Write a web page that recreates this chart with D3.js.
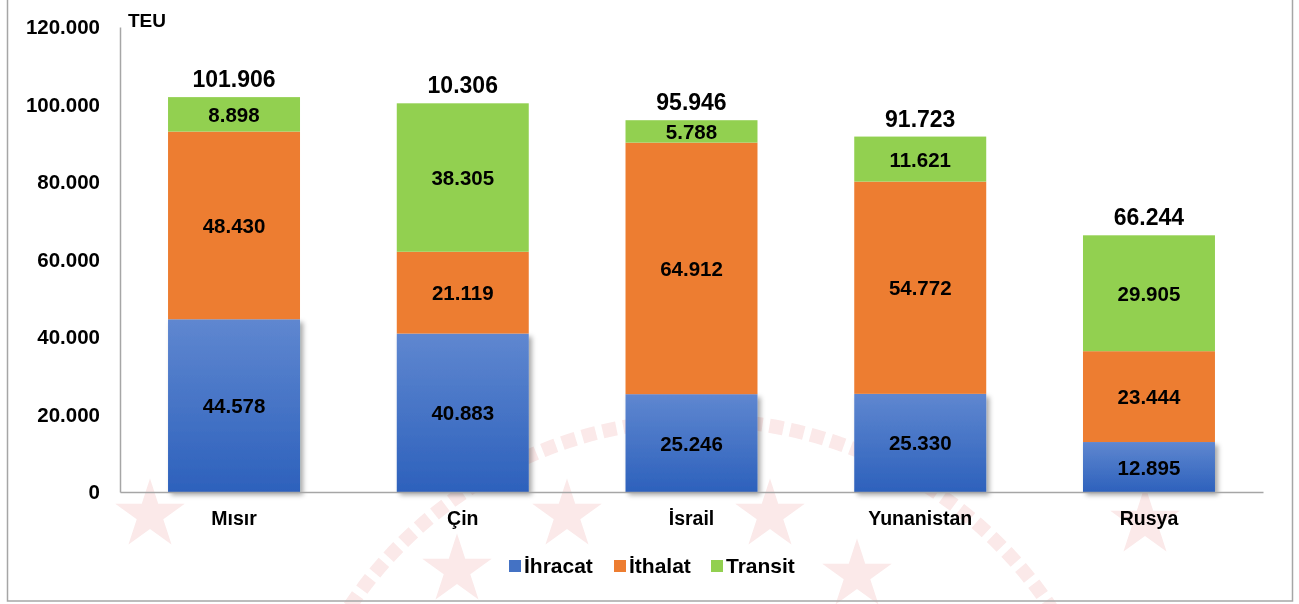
<!DOCTYPE html>
<html>
<head>
<meta charset="utf-8">
<script src="https://cdn.jsdelivr.net/npm/d3@7"></script>
<style>
  html, body { margin: 0; padding: 0; background: #fff; }
  text { font-family: "Liberation Sans", Arial, sans-serif; font-weight: bold; fill: #000; }
</style>
</head>
<body>
<div id="chart"></div>
<script>
// Data (TEU)
const categories = ['Mısır', 'Çin', 'İsrail', 'Yunanistan', 'Rusya'];
const ihracat = [44578, 40883, 25246, 25330, 12895];
const ithalat = [48430, 21119, 64912, 54772, 23444];
const transit = [8898, 38305, 5788, 11621, 29905];
const totalLabels = ['101.906', '10.306', '95.946', '91.723', '66.244'];
const seriesNames = ['İhracat', 'İthalat', 'Transit'];
const yTicks = [0, 20000, 40000, 60000, 80000, 100000, 120000];

const W = 1299, H = 604;
const margin = { left: 120, right: 36, top: 27, bottom: 112 };

const trFormat = d3.formatLocale({ decimal: ',', thousands: '.', grouping: [3], currency: ['', ''] }).format(',d');

const svg = d3.select('#chart').append('svg')
  .attr('width', W).attr('height', H);

const defs = svg.append('defs');
const grad = defs.append('linearGradient').attr('id', 'blueGrad')
  .attr('x1', 0).attr('y1', 0).attr('x2', 0).attr('y2', 1);
grad.append('stop').attr('offset', '0%').attr('stop-color', '#5f87d0');
grad.append('stop').attr('offset', '100%').attr('stop-color', '#2d61bc');
const shadow = defs.append('filter').attr('id', 'shadow')
  .attr('x', '-10%').attr('y', '-10%').attr('width', '130%').attr('height', '130%');
shadow.append('feDropShadow').attr('dx', 3).attr('dy', 3).attr('stdDeviation', 2.5)
  .attr('flood-color', '#000').attr('flood-opacity', 0.35);

// faint seal watermark in the background
const wm = svg.append('g').attr('opacity', 0.1);
wm.append('circle').attr('cx', 700).attr('cy', 842).attr('r', 422)
  .attr('fill', 'none').attr('stroke', '#d02020').attr('stroke-width', 14)
  .attr('stroke-dasharray', '14 7');
const starPts = [[150, 515], [567, 515], [770, 515], [457, 570], [857, 575], [1145, 522]];
wm.selectAll('path.star').data(starPts).join('path')
  .attr('class', 'star')
  .attr('transform', d => `translate(${d[0]},${d[1]})`)
  .attr('d', d3.symbol(d3.symbolStar, 1500))
  .attr('fill', '#d02020');

// outer frame
svg.append('rect').attr('x', 7.5).attr('y', -2).attr('width', 1285).attr('height', 603)
  .attr('fill', 'none').attr('stroke', '#a6a6a6').attr('stroke-width', 1.5);

const x = d3.scaleBand().domain(categories)
  .range([margin.left, W - margin.right])
  .paddingInner(0.423).paddingOuter(0.21);
const y = d3.scaleLinear().domain([0, 120000]).range([492, margin.top]);

// stack
const rows = categories.map((c, i) => ({ cat: c, 'İhracat': ihracat[i], 'İthalat': ithalat[i], 'Transit': transit[i] }));
const stacked = d3.stack().keys(seriesNames)(rows);
const colors = { 'İhracat': 'url(#blueGrad)', 'İthalat': '#ed7d31', 'Transit': '#92d050' };
const legendColors = { 'İhracat': '#4472c4', 'İthalat': '#ed7d31', 'Transit': '#92d050' };

const barsG = svg.append('g');
stacked.forEach(layer => {
  barsG.append('g').selectAll('rect').data(layer).join('rect')
    .attr('x', d => x(d.data.cat))
    .attr('y', d => y(d[1]))
    .attr('width', x.bandwidth())
    .attr('height', d => y(d[0]) - y(d[1]))
    .attr('fill', colors[layer.key])
    .attr('filter', layer.key === 'İhracat' ? 'url(#shadow)' : null);
});

// segment labels
stacked.forEach(layer => {
  barsG.append('g').selectAll('text').data(layer).join('text')
    .attr('x', d => x(d.data.cat) + x.bandwidth() / 2)
    .attr('y', d => (y(d[0]) + y(d[1])) / 2)
    .attr('text-anchor', 'middle').attr('dominant-baseline', 'central')
    .attr('font-size', 20.5)
    .text(d => trFormat(d[1] - d[0]));
});

// totals
const tops = stacked[stacked.length - 1];
svg.append('g').selectAll('text').data(tops).join('text')
  .attr('x', d => x(d.data.cat) + x.bandwidth() / 2)
  .attr('y', d => y(d[1]) - 10)
  .attr('text-anchor', 'middle')
  .attr('font-size', 23)
  .text((d, i) => totalLabels[i]);

// axes
const yAxis = svg.append('g').attr('transform', `translate(${margin.left},0)`)
  .call(d3.axisLeft(y).tickValues(yTicks).tickSize(0).tickPadding(20).tickFormat(trFormat));
yAxis.select('.domain').attr('stroke', '#a6a6a6').attr('stroke-width', 1.5);
yAxis.selectAll('text').attr('font-size', 20.5).attr('font-family', null).attr('fill', null);

const xAxis = svg.append('g').attr('transform', 'translate(0,492)')
  .call(d3.axisBottom(x).tickSize(0).tickPadding(19));
xAxis.select('.domain').attr('stroke', '#a6a6a6').attr('stroke-width', 1.5);
xAxis.selectAll('text').attr('font-size', 19.5).attr('font-family', null).attr('fill', null);

svg.append('text').attr('x', 128).attr('y', 27).attr('font-size', 19).text('TEU');

// legend
const legendX = [509, 614, 711];
const legend = svg.append('g');
seriesNames.forEach((s, i) => {
  const g = legend.append('g').attr('transform', `translate(${legendX[i]},560)`);
  g.append('rect').attr('width', 12).attr('height', 12).attr('fill', legendColors[s]);
  g.append('text').attr('x', 15).attr('y', 13).attr('font-size', 21).text(s);
});
</script>
</body>
</html>
